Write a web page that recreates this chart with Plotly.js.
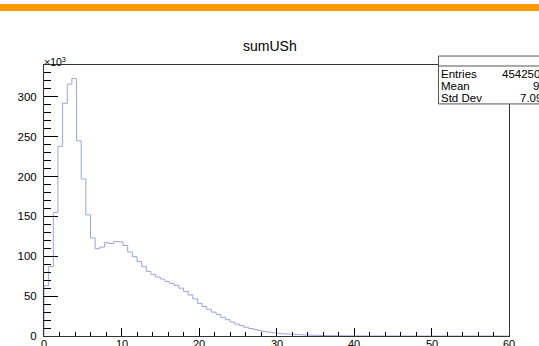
<!DOCTYPE html>
<html>
<head>
<meta charset="utf-8">
<script src="https://cdn.plot.ly/plotly-3.0.1.min.js"></script>
<style>html,body{margin:0;padding:0;background:#fff;overflow:hidden}#chart{width:539px;height:346px}</style>
</head>
<body>
<div id="chart"></div>
<script>
// Histogram "sumUSh": 100 bins over [0, 60], counts in units of 10^3
const binLow = 0;
const binHigh = 60;
const counts = [
  63, 87, 155, 238, 292, 316, 323, 245, 197, 152,
  123, 109.5, 111.5, 117, 116, 118.5, 118, 113.5, 105.5, 99.5,
  93.5, 87, 81, 77, 74, 71.5, 68.5, 66, 63.5, 60,
  56, 51.5, 46.5, 41, 37, 33.5, 30, 27, 23.5, 20.5,
  17.5, 15, 13, 11, 9.4, 8, 6.8, 5.7, 4.8, 4.0,
  3.4, 2.9, 2.5, 2.1, 1.8, 1.5, 1.25, 1.05, 0.9, 0.75,
  0.62, 0.5, 0.42, 0.35, 0.28, 0.22, 0.18, 0.14, 0.11, 0.09,
  0.07, 0.05, 0.04, 0.03, 0.02, 0.015, 0.01, 0.007, 0.005, 0.003,
  0, 0, 0, 0, 0, 0, 0, 0, 0, 0,
  0, 0, 0, 0, 0, 0, 0, 0, 0, 0
];
const xTickVals = [0, 10, 20, 30, 40, 50, 60];
const yTickVals = [0, 50, 100, 150, 200, 250, 300];
const statLabels = ["Entries", "Mean", "Std Dev"];
const statValues = ["4542500", "9.045", "7.093"];
const histTitle = "sumUSh";

// build step line from bin edges
const nb = counts.length;
const bw = (binHigh - binLow) / nb;
const xs = [binLow], ys = [0];
for (let i = 0; i < nb; i++) { xs.push(binLow + i * bw); ys.push(counts[i]); }
xs.push(binHigh); ys.push(counts[nb - 1]);

const W = 539, H = 346;
const L = 44, R = 509, T = 64.5, B = 336;
const px = v => (v - L) / (R - L);
const py = v => (B - v) / (B - T);
const font = "Liberation Sans, Arial, Helvetica, sans-serif";

const trace = {
  x: xs, y: ys, type: "scatter", mode: "lines",
  line: {shape: "hv", color: "#a0a0e6", width: 1},
  hoverinfo: "skip", showlegend: false
};

const shapes = [
  {type: "rect", xref: "paper", yref: "paper", x0: px(-10), x1: px(W + 10), y0: py(10.5), y1: py(3.5),
   fillcolor: "#ff9900", line: {width: 0}, layer: "above"},
  {type: "rect", xref: "paper", yref: "paper", x0: px(438.5), x1: px(640), y0: py(103.5), y1: py(55.5),
   fillcolor: "#ffffff", line: {color: "#555", width: 1}, layer: "above"},
  {type: "line", xref: "paper", yref: "paper", x0: px(438.5), x1: px(640), y0: py(65.5), y1: py(65.5),
   line: {color: "#555", width: 1}, layer: "above"}
];

const rowY = [73.5, 85.5, 97.5];
const annotations = [
  {text: histTitle, xref: "paper", yref: "paper", x: px(270), y: py(45), xanchor: "center", yanchor: "middle",
   showarrow: false, font: {family: font, size: 14, color: "#000"}},
  {text: "×10<sup>3</sup>", xref: "paper", yref: "paper", x: px(42), y: py(61), xanchor: "left", yanchor: "middle",
   showarrow: false, font: {family: font, size: 10.5, color: "#000"}}
];
xTickVals.forEach(v => {
  annotations.push({text: String(v), xref: "x", yref: "paper", x: v, y: py(336.5), xanchor: "center", yanchor: "top",
    showarrow: false, font: {family: font, size: 11, color: "#000"}});
});
const valStart = [501, 532, 519];
statLabels.forEach((lab, i) => {
  annotations.push({text: lab, xref: "paper", yref: "paper", x: px(440), y: py(rowY[i]), xanchor: "left", yanchor: "middle",
    showarrow: false, height: 11, borderpad: 0, font: {family: font, size: 11.5, color: "#000"}});
  annotations.push({text: statValues[i], xref: "paper", yref: "paper", x: px(valStart[i]), y: py(rowY[i]), xanchor: "left", yanchor: "middle",
    showarrow: false, height: 11, borderpad: 0, font: {family: font, size: 11.5, color: "#000"}});
});

const layout = {
  width: W, height: H,
  margin: {l: L, r: W - R, t: T, b: H - B, pad: 0},
  paper_bgcolor: "#fff", plot_bgcolor: "#fff",
  showlegend: false,
  xaxis: {
    range: [binLow, binHigh], tickvals: xTickVals, showticklabels: false,
    ticks: "inside", ticklen: 8, tickcolor: "#000", tickwidth: 1,
    minor: {dtick: 2, ticks: "inside", ticklen: 4, tickcolor: "#000", tickwidth: 1, showgrid: false},
    showgrid: false, zeroline: false, showline: true, linecolor: "#333", linewidth: 1, mirror: true
  },
  yaxis: {
    range: [0, 340], tickvals: yTickVals, ticktext: yTickVals.map(String),
    ticks: "inside", ticklen: 14, tickcolor: "#000", tickwidth: 1,
    minor: {dtick: 10, ticks: "inside", ticklen: 7, tickcolor: "#000", tickwidth: 1, showgrid: false},
    showgrid: false, zeroline: false, showline: true, linecolor: "#333", linewidth: 1, mirror: true,
    tickfont: {family: font, size: 11.5, color: "#000"}, ticklabelstandoff: 4
  },
  shapes: shapes,
  annotations: annotations
};

Plotly.newPlot("chart", [trace], layout, {staticPlot: true, displayModeBar: false});
</script>
</body>
</html>
